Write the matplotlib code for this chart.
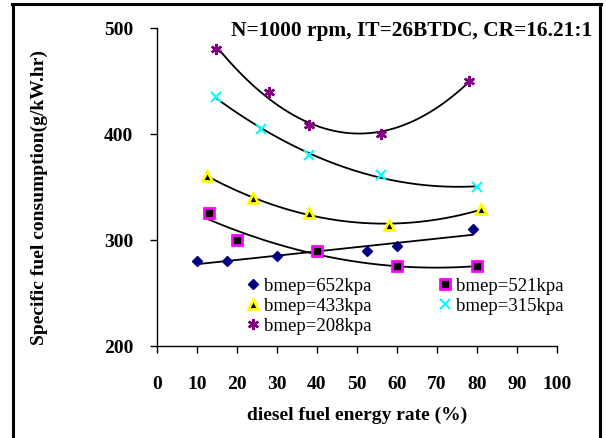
import numpy as np
import matplotlib
matplotlib.use("Agg")
import matplotlib.pyplot as plt
from matplotlib.lines import Line2D

plt.rcParams['font.family'] = ['Liberation Serif', 'DejaVu Serif']

x652 = [10, 17.5, 30, 52.5, 60, 79]
y652 = [280, 280, 285, 290, 294, 310]
x521 = [13, 20, 40, 60, 80]
y521 = [325, 300, 290, 275, 275]
x433 = [12.5, 24, 38, 58, 81]
y433 = [360, 340, 325, 314, 329]
x315 = [14.7, 26, 38, 56, 80]
y315 = [435, 405, 380, 361, 350]
x208 = [14.8, 28, 38, 56, 78]
y208 = [480, 440, 408, 400, 450]

labels = ['bmep=652kpa', 'bmep=521kpa', 'bmep=433kpa', 'bmep=315kpa', 'bmep=208kpa']
xticks = list(range(0, 101, 10))
yticks = [200, 300, 400, 500]

fig = plt.figure(figsize=(6.06, 4.39), dpi=100)
ax = fig.add_axes([0.259, 0.2096, 0.66, 0.7244])

series = [
    (x652, y652, 1, dict(marker='D', ms=5.5, mfc='#000080', mec='#000080', ls='none')),
    (x521, y521, 2, dict(marker='s', ms=7, mfc='black', mec='#FF00FF', mew=2, ls='none')),
    (x433, y433, 2, dict(marker='^', ms=7, mfc='black', mec='#FFFF00', mew=2, ls='none')),
    (x315, y315, 2, dict(marker='x', ms=7, mfc='#00FFFF', mec='#00FFFF', mew=1.5, ls='none')),
    (x208, y208, 2, dict(marker=(6, 2, 0), ms=8, mfc='#800080', mec='#800080', mew=1.8, ls='none')),
]

handles = []
for xs, ys, deg, st in series:
    c = np.polyfit(xs, ys, deg)
    xx = np.linspace(min(xs), max(xs), 200)
    ax.plot(xx, np.polyval(c, xx), color='black', lw=1.3, zorder=2)
for (xs, ys, deg, st), lab in zip(series, labels):
    h, = ax.plot(xs, ys, label=lab, zorder=3, clip_on=False, **st)
    handles.append(h)

ax.set_xlim(0, 100)
ax.set_ylim(200, 500)
ax.set_xticks(xticks)
ax.set_yticks(yticks)
for s in ['top', 'right']:
    ax.spines[s].set_visible(False)
for s in ['left', 'bottom']:
    ax.spines[s].set_linewidth(1.0)
ax.tick_params(direction='out', length=5, width=1, labelsize=14)
for t in ax.get_xticklabels() + ax.get_yticklabels():
    t.set_fontweight('bold')
ax.tick_params(axis='y', pad=12)
ax.tick_params(axis='x', pad=16)

ax.set_xlabel('diesel fuel energy rate (%)', fontsize=14, fontweight='bold', labelpad=9.5)
ax.set_ylabel('Specific fuel consumption(g/kW.hr)', fontsize=14, fontweight='bold')
ax.yaxis.set_label_coords(-0.2725, 0.47)

ax.text(1.0875, 0.994, 'N=1000 rpm, IT=26BTDC, CR=16.21:1', transform=ax.transAxes,
        ha='right', va='center', fontsize=15.4, fontweight='bold')

order = [0, 2, 4, 1, 3]
leg = ax.legend(handles=[handles[i] for i in order], ncol=2, frameon=False, fontsize=13.5,
                loc='upper left', bbox_to_anchor=(0.2075, 0.240), handlelength=0.6,
                handletextpad=0.3, columnspacing=3.57, labelspacing=0.15, borderaxespad=0)

fx = lambda p: p / 606.0
fy = lambda p: 1 - p / 439.0
fig.add_artist(Line2D([fx(13), fx(13)], [fy(4.5), 0], color='black', lw=2.2, transform=fig.transFigure))
fig.add_artist(Line2D([fx(600), fx(600)], [fy(4.5), 0], color='black', lw=2.2, transform=fig.transFigure))
fig.add_artist(Line2D([fx(12), fx(601)], [fy(4.5), fy(4.5)], color='black', lw=2.2, transform=fig.transFigure))

fig.savefig('out.png', dpi=100)
